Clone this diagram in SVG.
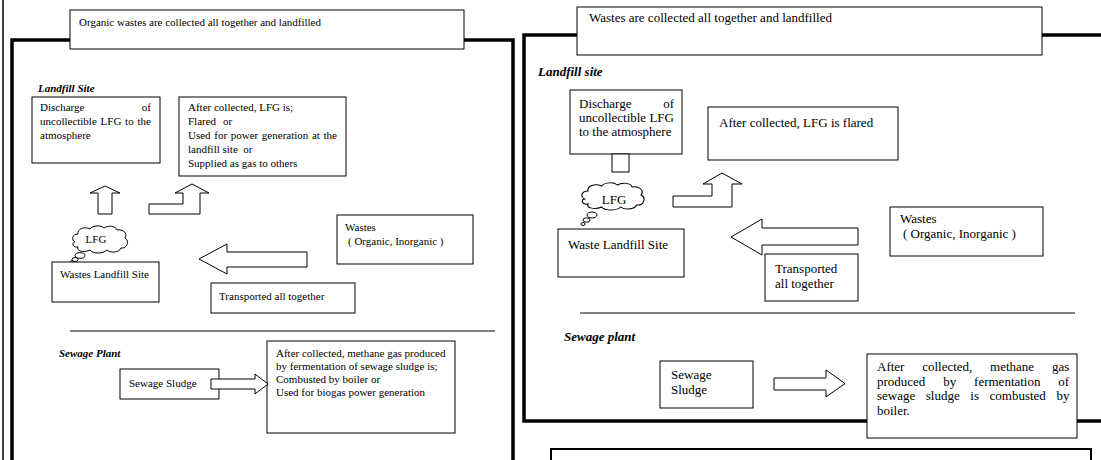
<svg xmlns="http://www.w3.org/2000/svg" width="1101" height="460" viewBox="0 0 1101 460">
<style>
.box{fill:#fff;stroke:#000;stroke-width:1}
.ar{fill:#fff;stroke:#000;stroke-width:1}
.frame{fill:none;stroke:#000;stroke-width:3.5}
.t{font-family:"Liberation Serif","Times New Roman",serif;font-size:11px;fill:#000}
.t2{font-family:"Liberation Serif","Times New Roman",serif;font-size:13px;fill:#000}
.h{font-weight:bold;font-style:italic}
.cl{fill:#fff;stroke:#000;stroke-width:1}
</style>
<defs>
<path id="cloud" d="M5,17 C1,15 2,9 8,9 C7,4 14,1 20,4 C23,0 31,0 34,3 C38,0 46,1 47,5 C53,4 58,8 55,13 C60,16 57,24 51,23 C49,28 40,28 37,25 C33,29 23,29 20,25 C14,28 6,26 8,22 C3,23 1,18 5,17 Z"/>
</defs>
<rect width="1101" height="460" fill="#fff"/>

<!-- frames -->
<g id="frames">
<line x1="3" y1="0" x2="3" y2="460" stroke="#000" stroke-width="1.5"/>
<path class="frame" d="M12,470 V40 H513 V470"/>
<path class="frame" d="M1110,35 H524 V421 H1110"/>
<rect x="551" y="449" width="540" height="30" fill="#fff" stroke="#000" stroke-width="2"/>
</g>

<!-- LEFT PANEL -->
<g id="left-title">
<rect class="box" x="70" y="10" width="394" height="39"/>
<text class="t" x="79" y="26">Organic wastes are collected all together and landfilled</text>
</g>
<text id="left-landfill-heading" class="t h" x="38" y="92">Landfill Site</text>
<g id="left-discharge">
<rect class="box" x="32" y="97" width="128" height="66"/>
<text class="t" x="40" y="111">Discharge</text>
<text class="t" x="151" y="111" text-anchor="end">of</text>
<text class="t" x="40" y="125" word-spacing="1">uncollectible LFG to the</text>
<text class="t" x="40" y="139">atmosphere</text>
</g>
<g id="left-after">
<rect class="box" x="179" y="97" width="167" height="79"/>
<text class="t" x="188" y="111">After collected, LFG is;</text>
<text class="t" x="188" y="125">Flared</text>
<text class="t" x="223" y="125">or</text>
<text class="t" x="188" y="139" word-spacing="0.9">Used for power generation at the</text>
<text class="t" x="188" y="153" xml:space="preserve">landfill site  or</text>
<text class="t" x="188" y="167">Supplied as gas to others</text>
</g>
<g id="left-lfg">
<use href="#cloud" class="cl" transform="translate(70,225)"/>
<ellipse class="cl" cx="80" cy="255.5" rx="5" ry="2.8"/>
<ellipse class="cl" cx="75" cy="259.5" rx="3" ry="2"/>
<ellipse class="cl" cx="72" cy="262" rx="1.6" ry="1.3"/>
<text class="t" x="96" y="243" text-anchor="middle">LFG</text>
</g>
<g id="left-wls">
<rect class="box" x="52" y="262" width="107" height="40"/>
<text class="t" x="60" y="278">Wastes Landfill Site</text>
</g>
<g id="left-wastes">
<rect class="box" x="337" y="215" width="136" height="49"/>
<text class="t" x="345" y="231">Wastes</text>
<text class="t" x="348" y="245">( Organic, Inorganic )</text>
</g>
<g id="left-transported">
<rect class="box" x="211" y="283" width="144" height="30"/>
<text class="t" x="219" y="300">Transported all together</text>
</g>
<line id="left-divider" x1="70" y1="331" x2="495" y2="331" stroke="#000" stroke-width="1"/>
<text id="left-sewage-heading" class="t h" x="59" y="357">Sewage Plant</text>
<g id="left-sludge">
<rect class="box" x="120" y="369" width="99" height="30"/>
<text class="t" x="129" y="387">Sewage Sludge</text>
</g>
<g id="left-methane">
<rect class="box" x="267" y="341" width="188" height="92"/>
<text class="t" x="276" y="357">After collected, methane gas produced</text>
<text class="t" x="276" y="370">by fermentation of sewage sludge is;</text>
<text class="t" x="276" y="383">Combusted by boiler or</text>
<text class="t" x="276" y="396">Used for biogas power generation</text>
</g>

<!-- RIGHT PANEL -->
<g id="right-title">
<rect class="box" x="577" y="7" width="465" height="48"/>
<text class="t2" x="589" y="22">Wastes are collected all together and landfilled</text>
</g>
<text id="right-landfill-heading" class="t2 h" x="538" y="76">Landfill site</text>
<g id="right-discharge">
<rect class="box" x="570" y="90" width="112" height="64"/>
<text class="t2" x="579" y="108">Discharge</text>
<text class="t2" x="674" y="108" text-anchor="end">of</text>
<text class="t2" x="579" y="122">uncollectible LFG</text>
<text class="t2" x="579" y="136">to the atmosphere</text>
</g>
<g id="right-after">
<rect class="box" x="708" y="107" width="190" height="53"/>
<text class="t2" x="719" y="127">After collected, LFG is flared</text>
</g>
<g id="right-lfg">
<use href="#cloud" class="cl" transform="translate(579,182) scale(1.13,1)"/>
<ellipse class="cl" cx="592" cy="215" rx="5" ry="3"/>
<ellipse class="cl" cx="586.5" cy="220" rx="3.5" ry="2.2"/>
<ellipse class="cl" cx="583" cy="224" rx="2" ry="1.5"/>
<text class="t2" x="614" y="204" text-anchor="middle">LFG</text>
</g>
<g id="right-wls">
<rect class="box" x="558" y="229" width="126" height="48"/>
<text class="t2" x="568" y="249">Waste Landfill Site</text>
</g>
<g id="right-transported">
<rect class="box" x="765" y="254" width="93" height="47"/>
<text class="t2" x="775" y="273">Transported</text>
<text class="t2" x="775" y="288">all together</text>
</g>
<g id="right-wastes">
<rect class="box" x="890" y="207" width="153" height="49"/>
<text class="t2" x="900" y="223">Wastes</text>
<text class="t2" x="903" y="238">( Organic, Inorganic )</text>
</g>
<line id="right-divider" x1="580" y1="313" x2="1075" y2="313" stroke="#000" stroke-width="1"/>
<text id="right-sewage-heading" class="t2 h" x="564" y="341">Sewage plant</text>
<g id="right-sludge">
<rect class="box" x="660" y="361" width="93" height="47"/>
<text class="t2" x="671" y="379">Sewage</text>
<text class="t2" x="671" y="394">Sludge</text>
</g>
<g id="right-methane">
<rect class="box" x="867" y="354" width="210" height="84"/>
<text class="t2" x="877" y="371" word-spacing="14.5">After collected, methane gas</text>
<text class="t2" x="877" y="385.5" word-spacing="14.6">produced by fermentation of</text>
<text class="t2" x="877" y="400" word-spacing="7.3">sewage sludge is combusted by</text>
<text class="t2" x="877" y="414.5">boiler.</text>
</g>

<!-- connectors -->
<g id="connectors">
<polygon class="ar" points="98,214 98,193 90,193 105,186 120,193 112,193 112,214"/>
<polygon class="ar" points="149,204 183,204 183,193 175,193 192,184 209,193 200,193 200,214 149,214"/>
<polygon class="ar" points="199,259 227,244 227,252 307,252 307,267 227,267 227,274"/>
<polygon class="ar" points="211,379 255,379 255,374 268,384 255,394 255,389 211,389"/>
<rect class="ar" x="612" y="154" width="17" height="18"/>
<polygon class="ar" points="673,207 732,207 732,184 742,184 722,173 703,184 712,184 712,196 673,196"/>
<polygon class="ar" points="731,237 762,219 762,228 858,228 858,245 762,245 762,255"/>
<polygon class="ar" points="774,378 826,378 826,370 845,383.5 826,397 826,390 774,390"/>
</g>
</svg>
